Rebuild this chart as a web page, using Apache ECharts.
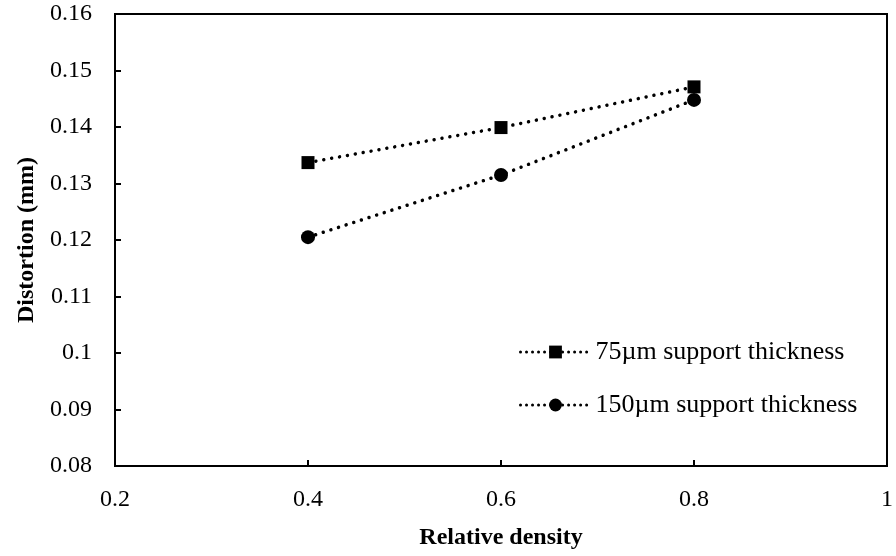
<!DOCTYPE html>
<html>
<head>
<meta charset="utf-8">
<script src="https://cdn.jsdelivr.net/npm/echarts@6/dist/echarts.min.js"></script>
<style>
  html, body { margin: 0; padding: 0; background: #fff; }
  #chart { width: 896px; height: 556px; }
</style>
</head>
<body>
<div id="chart"></div>
<script>
  // relative density on x, distortion (mm) on y
  const density = [0.4, 0.6, 0.8];
  const thin75 = [0.1337, 0.1399, 0.1471];
  const thick150 = [0.1205, 0.1315, 0.1448];
  const seriesNames = ['75\u00b5m support thickness', '150\u00b5m support thickness'];

  const font = '"Liberation Serif", "Times New Roman", serif';

  function pairs(xs, ys) {
    return xs.map((x, i) => [x, ys[i]]);
  }

  const dotted = {
    color: '#000',
    width: 3.5,
    type: [0.01, 8],
    cap: 'round'
  };

  let myChart = echarts.init(document.getElementById('chart'));

  let option = {
    backgroundColor: '#fff',
    animation: false,
    grid: {
      left: 115,
      top: 14,
      right: 4,
      bottom: 90,
      show: true,
      borderColor: '#000',
      borderWidth: 2,
      containLabel: false
    },
    legend: {
      orient: 'vertical',
      left: 514,
      top: 332,
      itemWidth: 70,
      itemHeight: 16,
      itemGap: 23,
      lineStyle: { width: 3, type: [0.01, 6], cap: 'round', color: '#000' },
      textStyle: {
        fontFamily: font,
        fontSize: 26,
        lineHeight: 30,
        color: '#000'
      },
      data: seriesNames
    },
    xAxis: {
      type: 'value',
      min: 0.2,
      max: 1,
      interval: 0.2,
      name: 'Relative density',
      nameLocation: 'middle',
      nameGap: 60,
      nameTextStyle: {
        fontFamily: font,
        fontSize: 24,
        fontWeight: 'bold',
        color: '#000'
      },
      axisLine: { show: true, lineStyle: { color: '#000', width: 2 } },
      axisTick: { show: true, inside: true, length: 6, lineStyle: { color: '#000', width: 2 } },
      splitLine: { show: false },
      axisLabel: {
        fontFamily: font,
        fontSize: 24,
        color: '#000',
        margin: 22
      }
    },
    yAxis: {
      type: 'value',
      min: 0.08,
      max: 0.16,
      interval: 0.01,
      name: 'Distortion (mm)',
      nameLocation: 'middle',
      nameGap: 76,
      nameTextStyle: {
        fontFamily: font,
        fontSize: 24,
        fontWeight: 'bold',
        color: '#000'
      },
      axisLine: { show: true, lineStyle: { color: '#000', width: 2 } },
      axisTick: { show: true, inside: true, length: 6, lineStyle: { color: '#000', width: 2 } },
      splitLine: { show: false },
      axisLabel: {
        fontFamily: font,
        fontSize: 24,
        color: '#000',
        margin: 23
      }
    },
    series: [
      {
        name: seriesNames[0],
        type: 'line',
        data: pairs(density, thin75),
        symbol: 'rect',
        symbolSize: 13,
        itemStyle: { color: '#000' },
        lineStyle: dotted
      },
      {
        name: seriesNames[1],
        type: 'line',
        data: pairs(density, thick150),
        symbol: 'circle',
        symbolSize: 14,
        itemStyle: { color: '#000' },
        lineStyle: dotted
      }
    ]
  };

  myChart.setOption(option);
</script>
</body>
</html>
